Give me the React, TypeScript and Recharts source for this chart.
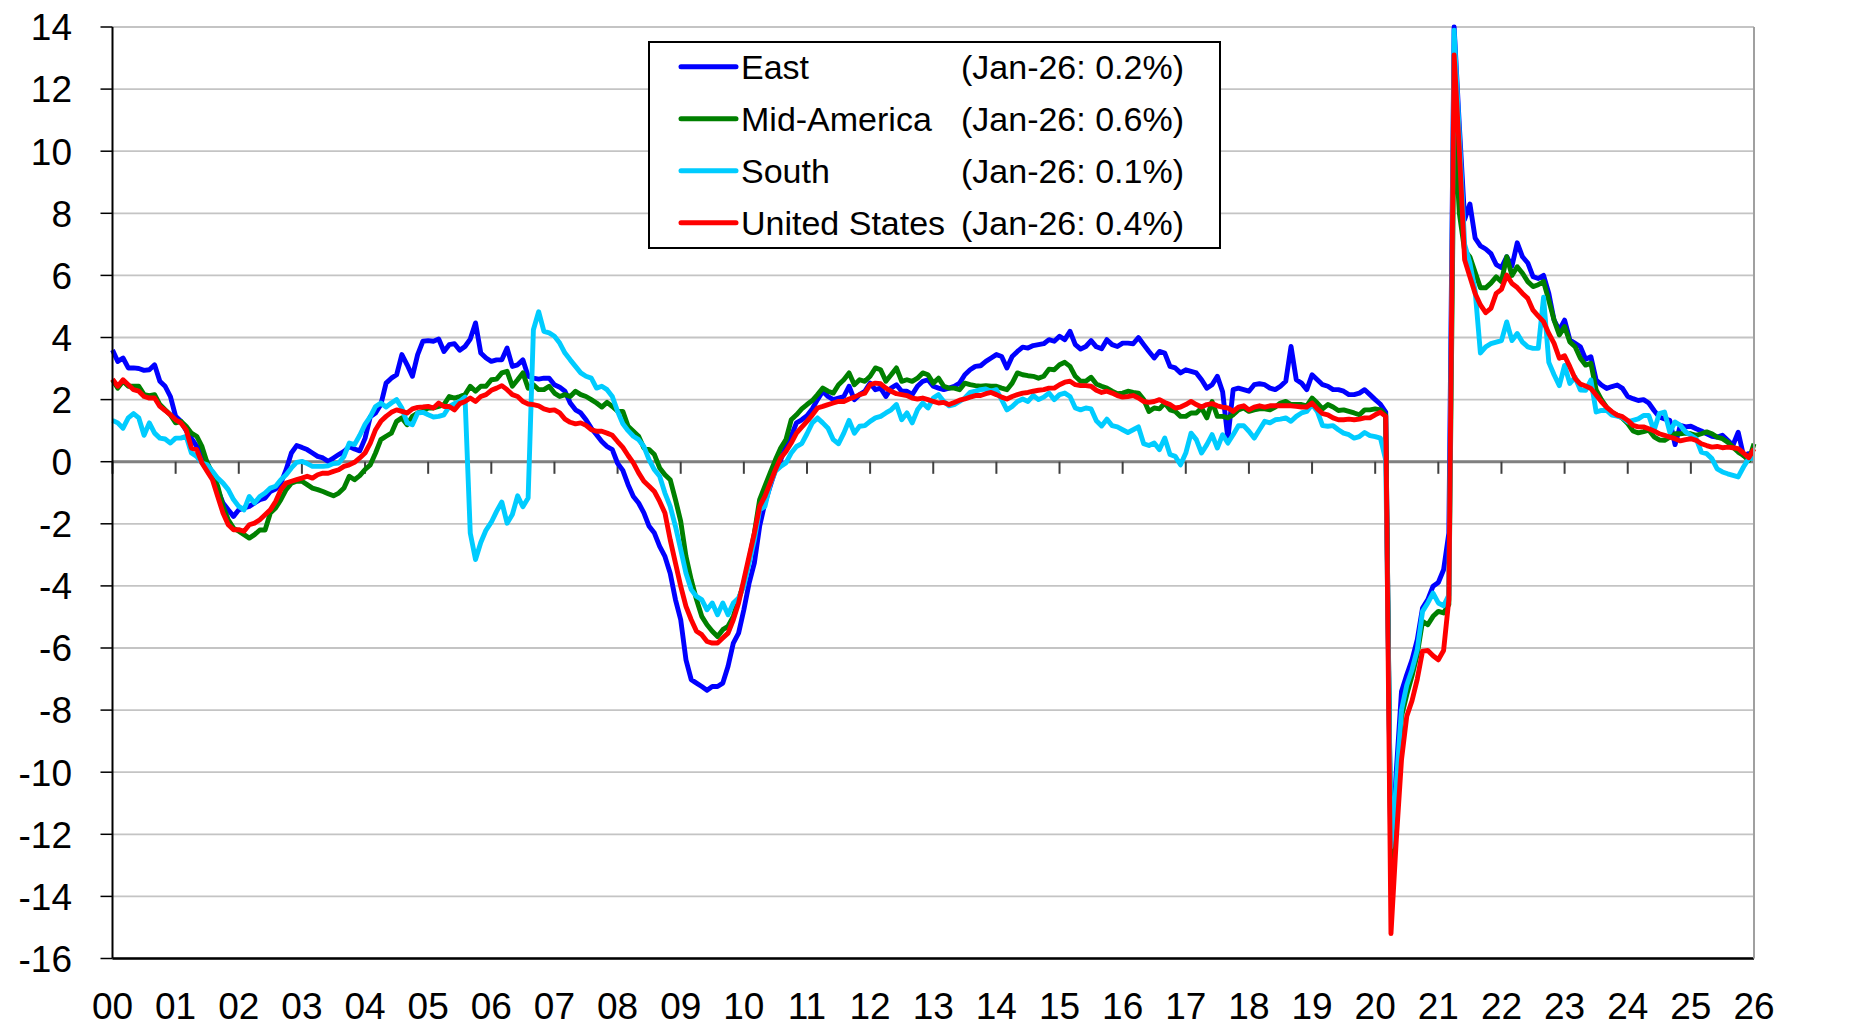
import React from 'react';
import { LineChart, Line, XAxis, YAxis, CartesianGrid, ReferenceLine } from 'recharts';

const FONT = '"Liberation Sans", Arial, sans-serif';

const YEARS = ['00','01','02','03','04','05','06','07','08','09','10','11','12','13','14','15','16','17','18','19','20','21','22','23','24','25','26'];
const Y_TICKS = [-16,-14,-12,-10,-8,-6,-4,-2,0,2,4,6,8,10,12,14];

// Monthly % change (Jan-2000 .. Jan-2026)
const east = [
  3.6, 3.23, 3.34, 3.02, 3.02, 3.0, 2.94, 2.96, 3.12, 2.59, 2.43, 2.1,
  1.46, 1.3, 1.0, 0.75, 0.5, 0.3, -0.04, -0.47, -0.9, -1.33, -1.55, -1.76,
  -1.55, -1.49, -1.44, -1.33, -1.22, -1.17, -0.96, -0.88, -0.69, -0.26, 0.28, 0.52,
  0.46, 0.39, 0.28, 0.17, 0.12, 0.01, 0.12, 0.23, 0.33, 0.49, 0.41, 0.35,
  0.75, 1.45, 1.57, 1.84, 2.53, 2.69, 2.8, 3.45, 3.12, 2.75, 3.45, 3.88,
  3.9, 3.88, 3.95, 3.55, 3.77, 3.8, 3.59, 3.71, 3.95, 4.47, 3.5, 3.34,
  3.23, 3.28, 3.28, 3.66, 3.07, 3.12, 3.28, 2.75, 2.69, 2.66, 2.69, 2.69,
  2.48, 2.4, 2.27, 1.89, 1.67, 1.57, 1.35, 1.08, 0.87, 0.65, 0.49, 0.39,
  -0.05, -0.28, -0.74, -1.12, -1.33, -1.65, -2.08, -2.3, -2.73, -3.05, -3.59, -4.44,
  -5.09, -6.38, -7.02, -7.13, -7.24, -7.36, -7.24, -7.24, -7.13, -6.59, -5.84, -5.52,
  -4.77, -3.91, -3.26, -2.08, -1.33, -0.79, -0.26, 0.06, 0.49, 0.82, 1.25, 1.35,
  1.48, 1.7, 2.0, 2.27, 2.1, 2.0, 2.05, 2.1, 2.43, 2.0, 2.16, 2.27,
  2.53, 2.32, 2.37, 2.1, 2.37, 2.48, 2.27, 2.27, 2.16, 2.43, 2.59, 2.64,
  2.43, 2.37, 2.32, 2.37, 2.43, 2.53, 2.8, 2.96, 3.07, 3.09, 3.23, 3.34,
  3.45, 3.39, 3.02, 3.39, 3.55, 3.69, 3.66, 3.74, 3.77, 3.8, 3.93, 3.88,
  4.04, 3.93, 4.2, 3.77, 3.63, 3.71, 3.9, 3.7, 3.64, 3.93, 3.77, 3.71,
  3.82, 3.82, 3.8, 4.0, 3.77, 3.55, 3.34, 3.55, 3.5, 3.07, 3.02, 2.86,
  2.96, 2.91, 2.86, 2.64, 2.37, 2.48, 2.75, 2.25, 0.75, 2.32, 2.37, 2.32,
  2.27, 2.48, 2.51, 2.48, 2.37, 2.32, 2.43, 2.59, 3.71, 2.64, 2.53, 2.32,
  2.8, 2.64, 2.48, 2.43, 2.32, 2.32, 2.27, 2.16, 2.16, 2.21, 2.32, 2.16,
  2.0, 1.85, 1.6, -13.2, -10.0, -7.4, -6.86, -6.38, -5.73, -4.71, -4.44, -4.01,
  -3.89, -3.48, -2.3, 14.0, 10.8, 7.8, 8.3, 7.2, 6.95, 6.85, 6.7, 6.35,
  6.25, 6.6, 6.3, 7.05, 6.6, 6.4, 5.96, 5.9, 6.0, 5.42, 4.56, 4.24,
  4.56, 3.92, 3.81, 3.7, 3.3, 3.38, 2.63, 2.47, 2.36, 2.42, 2.47, 2.36,
  2.1, 2.03, 1.97, 2.0, 1.89, 1.65, 1.44, 1.38, 1.33, 0.55, 1.17, 1.12,
  1.14, 1.06, 0.99, 0.9, 0.82, 0.79, 0.85, 0.69, 0.53, 0.95, 0.2, 0.26,
  0.2,
];

const midAmerica = [
  2.64, 2.37, 2.59, 2.43, 2.43, 2.43, 2.16, 2.13, 2.16, 1.84, 1.67, 1.51,
  1.25, 1.3, 1.14, 0.92, 0.82, 0.49, -0.04, -0.37, -0.79, -1.44, -1.87, -2.14,
  -2.24, -2.35, -2.46, -2.35, -2.2, -2.2, -1.65, -1.49, -1.22, -0.9, -0.69, -0.63,
  -0.63, -0.74, -0.85, -0.9, -0.96, -1.03, -1.1, -1.01, -0.85, -0.47, -0.58, -0.45,
  -0.25, -0.1, 0.28, 0.71, 0.82, 0.92, 1.3, 1.41, 1.19, 1.46, 1.57, 1.62,
  1.73, 1.73, 1.78, 1.84, 2.1, 2.05, 2.1, 2.16, 2.43, 2.27, 2.43, 2.43,
  2.64, 2.66, 2.86, 2.91, 2.43, 2.64, 2.86, 2.37, 2.48, 2.32, 2.32, 2.43,
  2.21, 2.1, 2.16, 2.1, 2.27, 2.16, 2.1, 2.0, 1.89, 1.76, 1.91, 1.78,
  1.63, 1.62, 1.14, 0.98, 0.82, 0.44, 0.39, 0.23, -0.2, -0.42, -0.58, -1.22,
  -1.92, -3.05, -3.8, -4.44, -4.98, -5.25, -5.46, -5.63, -5.41, -5.3, -4.98, -4.44,
  -3.91, -3.16, -2.3, -1.22, -0.79, -0.36, 0.06, 0.44, 0.71, 1.35, 1.51, 1.7,
  1.84, 1.97, 2.16, 2.37, 2.27, 2.21, 2.48, 2.64, 2.86, 2.48, 2.64, 2.59,
  2.75, 3.02, 2.96, 2.59, 2.8, 3.02, 2.59, 2.64, 2.59, 2.69, 2.86, 2.8,
  2.53, 2.69, 2.43, 2.37, 2.37, 2.32, 2.53, 2.48, 2.45, 2.43, 2.45, 2.43,
  2.43, 2.37, 2.32, 2.53, 2.86, 2.8, 2.77, 2.75, 2.69, 2.75, 2.98, 2.96,
  3.12, 3.2, 3.07, 2.75, 2.59, 2.59, 2.72, 2.5, 2.43, 2.37, 2.27, 2.19,
  2.21, 2.27, 2.23, 2.21, 2.0, 1.62, 1.73, 1.7, 1.89, 1.67, 1.62, 1.46,
  1.46, 1.57, 1.57, 1.73, 1.41, 1.94, 1.46, 1.46, 1.41, 1.51, 1.67, 1.73,
  1.62, 1.67, 1.7, 1.7, 1.67, 1.76, 1.89, 1.94, 1.84, 1.84, 1.84, 1.8,
  2.05, 1.89, 1.7, 1.84, 1.76, 1.65, 1.67, 1.62, 1.57, 1.51, 1.67, 1.67,
  1.7, 1.67, 1.5, -12.9, -10.8, -8.2, -7.5, -6.9, -6.2, -5.14, -5.25, -4.98,
  -4.82, -4.87, -4.6, 11.0, 8.0, 6.8, 6.6, 6.1, 5.6, 5.6, 5.75, 5.95,
  5.8, 6.6, 6.0, 6.28, 6.07, 5.8, 5.64, 5.7, 5.8, 5.2, 4.56, 4.08,
  4.35, 3.86, 3.7, 3.33, 3.11, 3.17, 2.31, 2.0, 1.75, 1.58, 1.5, 1.4,
  1.23, 0.99, 0.93, 0.97, 1.02, 0.8, 0.7, 0.69, 0.79, 0.9, 0.9, 0.92,
  0.9, 0.85, 0.9, 0.96, 0.9, 0.79, 0.74, 0.63, 0.47, 0.31, 0.2, 0.04,
  0.58,
];

const south = [
  1.33, 1.25, 1.08, 1.41, 1.55, 1.41, 0.85, 1.25, 0.92, 0.76, 0.73, 0.6,
  0.76, 0.76, 0.82, 0.28, 0.17, -0.04, -0.1, -0.31, -0.53, -0.69, -0.9, -1.22,
  -1.44, -1.55, -1.12, -1.33, -1.12, -1.01, -0.85, -0.79, -0.58, -0.42, -0.2, -0.02,
  0.01, -0.06, -0.15, -0.15, -0.15, -0.13, -0.06, -0.04, 0.17, 0.6, 0.55, 0.85,
  1.2, 1.45, 1.78, 1.89, 1.76, 1.89, 2.0, 1.73, 1.25, 1.19, 1.57, 1.59,
  1.51, 1.44, 1.46, 1.51, 1.78, 1.87, 1.94, 2.08, -2.3, -3.15, -2.6, -2.2,
  -1.95, -1.6, -1.3, -1.98, -1.7, -1.1, -1.45, -1.17, 4.25, 4.83, 4.2, 4.15,
  4.04, 3.82, 3.5, 3.28, 3.07, 2.86, 2.75, 2.69, 2.37, 2.43, 2.32, 2.1,
  1.62, 1.22, 1.0, 0.82, 0.71, 0.49, 0.06, -0.26, -0.47, -1.01, -1.44, -2.08,
  -2.83, -3.59, -4.12, -4.34, -4.44, -4.77, -4.55, -4.93, -4.55, -4.93, -4.55, -4.39,
  -4.01, -3.26, -2.51, -1.55, -1.44, -0.74, -0.31, -0.15, -0.04, 0.28, 0.49, 0.58,
  0.9, 1.25, 1.41, 1.25, 1.08, 0.71, 0.58, 0.92, 1.33, 0.92, 1.14, 1.16,
  1.3, 1.41, 1.46, 1.57, 1.67, 1.84, 1.35, 1.57, 1.25, 1.67, 1.89, 1.73,
  2.05, 2.16, 1.94, 1.8, 1.84, 1.94, 2.05, 2.23, 2.27, 2.32, 2.34, 2.27,
  2.32, 2.0, 1.67, 1.78, 1.94, 2.02, 1.94, 2.13, 2.0, 2.08, 2.21, 2.0,
  2.16, 2.21, 2.1, 1.73, 1.67, 1.73, 1.7, 1.32, 1.15, 1.37, 1.16, 1.12,
  1.03, 0.94, 1.03, 1.12, 0.58, 0.52, 0.6, 0.39, 0.76, 0.23, 0.17, -0.1,
  0.28, 0.92, 0.71, 0.28, 0.55, 0.87, 0.44, 0.87, 0.6, 0.87, 1.16, 1.16,
  0.98, 0.76, 1.03, 1.3, 1.25, 1.35, 1.37, 1.41, 1.3, 1.46, 1.57, 1.62,
  1.84, 1.62, 1.16, 1.14, 1.16, 1.03, 0.92, 0.87, 0.76, 0.81, 0.94, 0.84,
  0.81, 0.76, 0.06, -12.4, -10.4, -8.0, -7.2, -6.7, -6.05, -4.82, -4.55, -4.23,
  -4.55, -4.64, -4.3, 13.9, 10.5, 7.0, 6.4, 5.5, 3.5, 3.7, 3.8, 3.85,
  3.9, 4.5, 3.9, 4.13, 3.85, 3.7, 3.65, 3.65, 5.3, 3.2, 2.8, 2.45,
  3.1, 2.52, 2.72, 2.31, 2.3, 2.63, 1.6, 1.65, 1.65, 1.5, 1.47, 1.42,
  1.28, 1.33, 1.38, 1.49, 1.49, 1.0, 1.55, 1.6, 0.95, 1.28, 1.17, 0.96,
  0.85, 0.74, 0.31, 0.26, 0.1, -0.23, -0.33, -0.39, -0.44, -0.49, -0.17, 0.1,
  0.12,
];

const unitedStates = [
  2.66, 2.43, 2.64, 2.48, 2.32, 2.27, 2.1, 2.05, 2.05, 1.78, 1.65, 1.51,
  1.35, 1.25, 1.03, 0.44, 0.39, -0.04, -0.31, -0.58, -1.12, -1.65, -2.03, -2.19,
  -2.19, -2.24, -2.03, -1.98, -1.87, -1.71, -1.55, -1.28, -0.9, -0.69, -0.63, -0.58,
  -0.53, -0.47, -0.53, -0.42, -0.37, -0.37, -0.31, -0.26, -0.15, -0.1, -0.02, 0.12,
  0.28, 0.6, 1.03, 1.3, 1.46, 1.59, 1.67, 1.62, 1.57, 1.7, 1.75, 1.76,
  1.78, 1.73, 1.89, 1.78, 1.78, 1.67, 1.87, 1.94, 2.05, 1.94, 2.1, 2.16,
  2.3, 2.37, 2.45, 2.32, 2.16, 2.1, 1.94, 1.86, 1.84, 1.8, 1.7, 1.65,
  1.67, 1.57, 1.37, 1.27, 1.22, 1.25, 1.17, 1.03, 0.98, 0.98, 0.92, 0.85,
  0.65, 0.46, 0.2, -0.04, -0.36, -0.63, -0.79, -0.96, -1.28, -1.65, -2.51, -3.26,
  -4.01, -4.66, -5.09, -5.46, -5.57, -5.79, -5.84, -5.84, -5.68, -5.52, -5.09, -4.55,
  -3.8, -3.05, -2.3, -1.44, -1.12, -0.69, -0.26, 0.12, 0.33, 0.6, 0.92, 1.11,
  1.3, 1.5, 1.73, 1.78, 1.84, 1.89, 1.94, 1.94, 2.02, 2.08, 2.16, 2.21,
  2.48, 2.53, 2.51, 2.37, 2.27, 2.19, 2.16, 2.13, 2.05, 2.02, 2.05, 2.0,
  1.94, 1.89, 1.91, 1.84, 1.91, 1.98, 2.02, 2.08, 2.13, 2.13, 2.19, 2.23,
  2.16, 2.08, 2.02, 2.1, 2.16, 2.21, 2.23, 2.27, 2.3, 2.32, 2.37, 2.37,
  2.48, 2.56, 2.59, 2.48, 2.45, 2.45, 2.43, 2.3, 2.23, 2.27, 2.21, 2.13,
  2.08, 2.1, 2.13, 2.05, 1.94, 1.91, 1.94, 2.0, 1.91, 1.84, 1.73, 1.76,
  1.84, 1.94, 1.84, 1.76, 1.84, 1.87, 1.8, 1.76, 1.73, 1.62, 1.76, 1.8,
  1.67, 1.76, 1.8, 1.76, 1.8, 1.8, 1.8, 1.8, 1.8, 1.78, 1.76, 1.76,
  1.89, 1.7, 1.55, 1.51, 1.41, 1.35, 1.35, 1.37, 1.35, 1.37, 1.41, 1.41,
  1.51, 1.59, 1.46, -15.2, -12.2, -9.6, -8.2, -7.7, -7.0, -6.1, -6.08, -6.25,
  -6.38, -6.08, -4.44, 13.1, 10.0, 6.5, 5.96, 5.42, 5.05, 4.8, 4.94, 5.42,
  5.55, 6.01, 5.74, 5.61, 5.42, 5.26, 4.88, 4.69, 4.51, 4.13, 3.81, 3.33,
  3.41, 3.06, 2.68, 2.5, 2.44, 2.36, 2.15, 1.93, 1.75, 1.61, 1.5, 1.45,
  1.33, 1.17, 1.12, 1.12, 1.06, 0.99, 0.9, 0.85, 0.79, 0.74, 0.67, 0.71,
  0.74, 0.69, 0.58, 0.52, 0.47, 0.49, 0.45, 0.47, 0.45, 0.42, 0.28, 0.13,
  0.42,
];

const SERIES = [
  { key: 'east', name: 'East', note: '(Jan-26: 0.2%)', color: '#0000FF' },
  { key: 'mid', name: 'Mid-America', note: '(Jan-26: 0.6%)', color: '#008000' },
  { key: 'south', name: 'South', note: '(Jan-26: 0.1%)', color: '#00CCFF' },
  { key: 'us', name: 'United States', note: '(Jan-26: 0.4%)', color: '#FF0000' },
];

const X_TICKS = YEARS.map((_, k) => k * 12);

const renderXTick = (props: any) => {
  const { x, payload } = props;
  const label = YEARS[Math.round(payload.value / 12)];
  return (
    <text x={x} y={1019} textAnchor="middle" fontSize={37} fontFamily={FONT} fill="#000">
      {label}
    </text>
  );
};

const renderLeftTick = (props: any) => {
  const { y, payload } = props;
  return (
    <text x={72} y={y + 13.3} textAnchor="end" fontSize={37} fontFamily={FONT} fill="#000">
      {payload.value}
    </text>
  );
};

const renderRightTick = (props: any) => {
  const { y, payload } = props;
  return (
    <text x={1790} y={y + 13.3} textAnchor="start" fontSize={37} fontFamily={FONT} fill="#000">
      {payload.value}
    </text>
  );
};

function LegendBox() {
  return (
    <div
      style={{
        position: 'absolute',
        left: 648,
        top: 41,
        width: 573,
        height: 208,
        border: '2px solid #000',
        boxSizing: 'border-box',
        background: '#fff',
      }}
    >
      <svg width={569} height={204} style={{ position: 'absolute', left: 0, top: 0 }}>
        {SERIES.map((s, i) => {
          const cy = 23.7 + i * 52;
          return (
            <g key={s.key}>
              <line x1={31} x2={86} y1={cy} y2={cy} stroke={s.color} strokeWidth={5} strokeLinecap="round" />
              <text x={91} y={cy + 12.2} fontSize={34} fontFamily={FONT} fill="#000">
                {s.name}
              </text>
              <text x={534} y={cy + 12.2} fontSize={34} fontFamily={FONT} fill="#000" textAnchor="end">
                {s.note}
              </text>
            </g>
          );
        })}
      </svg>
    </div>
  );
}

export default function App() {
  const rows = east.map((v, i) => ({
    i,
    east: v,
    mid: midAmerica[i],
    south: south[i],
    us: unitedStates[i],
  }));

  return (
    <div
      style={{
        position: 'absolute',
        left: 0,
        top: 0,
        width: 1875,
        height: 1028,
        background: '#fff',
        fontFamily: FONT,
      }}
    >
      <LineChart width={1875} height={1028} data={rows} margin={{ top: 27, right: 0, bottom: 0, left: 0 }}>
        <CartesianGrid vertical={false} stroke="#c4c4c4" strokeWidth={1.8} />
        <XAxis
          dataKey="i"
          type="number"
          domain={[0, 312]}
          ticks={X_TICKS}
          interval={0}
          height={69.5}
          tickLine={false}
          axisLine={{ stroke: '#000', strokeWidth: 2.5 }}
          tick={renderXTick}
        />
        <XAxis
          xAxisId="top"
          orientation="top"
          type="number"
          domain={[0, 312]}
          height={0}
          tick={false}
          tickLine={false}
          axisLine={{ stroke: '#000', strokeWidth: 2 }}
        />
        <YAxis
          type="number"
          domain={[-16, 14]}
          ticks={Y_TICKS}
          interval={0}
          width={112.5}
          tickSize={12}
          tickLine={{ stroke: '#000', strokeWidth: 1.5 }}
          axisLine={{ stroke: '#000', strokeWidth: 2 }}
          tick={renderLeftTick}
        />
        <YAxis
          yAxisId="right"
          orientation="right"
          type="number"
          domain={[-16, 14]}
          ticks={Y_TICKS}
          interval={0}
          width={121}
          tickSize={12}
          tickLine={{ stroke: '#a0a0a0', strokeWidth: 1.5 }}
          axisLine={{ stroke: '#a0a0a0', strokeWidth: 2 }}
          tick={renderRightTick}
        />
        <ReferenceLine y={0} stroke="#808080" strokeWidth={3} />
        {X_TICKS.map((t) => (
          <ReferenceLine
            key={'tk' + t}
            segment={[
              { x: t, y: 0 },
              { x: t, y: -0.39 },
            ]}
            stroke="#404040"
            strokeWidth={2}
          />
        ))}
        {SERIES.map((s) => (
          <Line
            key={s.key}
            type="linear"
            dataKey={s.key}
            name={s.name}
            stroke={s.color}
            strokeWidth={4.9}
            strokeLinejoin="round"
            dot={false}
            activeDot={false}
            isAnimationActive={false}
          />
        ))}
      </LineChart>
      <LegendBox />
    </div>
  );
}
